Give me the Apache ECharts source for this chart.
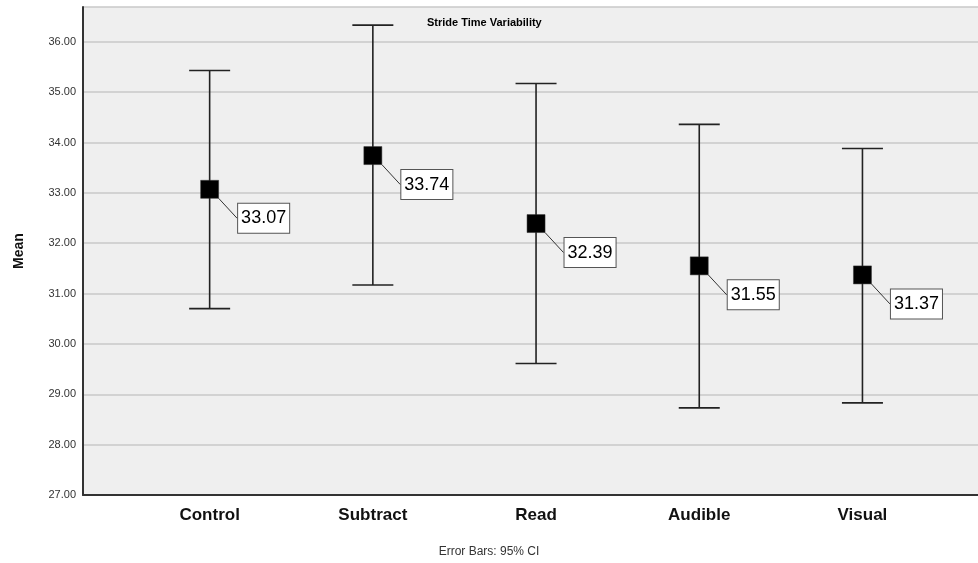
<!DOCTYPE html>
<html>
<head>
<meta charset="utf-8">
<script src="https://cdn.jsdelivr.net/npm/echarts@6/dist/echarts.min.js"></script>
<style>html,body{margin:0;padding:0;background:#fff}#c{width:978px;height:563px}</style>
</head>
<body>
<div id="c"></div>
<script>
const categories = ['Control', 'Subtract', 'Read', 'Audible', 'Visual'];
const means = [33.07, 33.74, 32.39, 31.55, 31.37];
const lowerCI = [30.70, 31.17, 29.61, 28.73, 28.83];
const upperCI = [35.43, 36.33, 35.17, 34.36, 33.88];
const yTickLabels = ['27.00','28.00','29.00','30.00','31.00','32.00','33.00','34.00','35.00','36.00'];

const chart = echarts.init(document.getElementById('c'));
const font = 'Arial, "Liberation Sans", sans-serif';
chart.setOption({
  animation: false,
  backgroundColor: '#ffffff',
  title: [
    { text: 'Stride Time Variability', left: 422, top: 12,
      textStyle: { fontFamily: font, fontSize: 11, fontWeight: 'bold', color: '#000' } },
    { text: 'Error Bars: 95% CI', left: 'center', top: 541,
      textStyle: { fontFamily: font, fontSize: 12, fontWeight: 'normal', color: '#333' } }
  ],
  grid: { left: 83, right: 0, top: 7, bottom: 68, show: true, backgroundColor: '#efefef', borderWidth: 0 },
  xAxis: {
    type: 'value', min: -0.776, max: 4.708,
    axisLine: { show: true, onZero: false, lineStyle: { color: '#333', width: 2 } },
    axisTick: { show: false },
    splitLine: { show: false },
    axisLabel: {
      customValues: [0, 1, 2, 3, 4],
      formatter: v => categories[Math.round(v)],
      fontFamily: font, fontSize: 17, fontWeight: 'bold', color: '#111', margin: 12
    }
  },
  yAxis: {
    type: 'value', min: 27, max: 36.69, interval: 1,
    name: 'Mean', nameLocation: 'middle', nameRotate: 90, nameGap: 57,
    nameTextStyle: { fontFamily: font, fontSize: 14, fontWeight: 'bold', color: '#111' },
    axisLine: { show: true, onZero: false, lineStyle: { color: '#333', width: 2 } },
    axisTick: { show: false },
    splitLine: { show: true, lineStyle: { color: '#c8c8c8', width: 1.5 } },
    axisLabel: {
      fontFamily: font, fontSize: 11, color: '#333', margin: 7,
      formatter: v => yTickLabels[Math.round(v - 27)] || ''
    }
  },
  series: [
    {
      type: 'custom',
      data: categories.map((c, i) => [i, lowerCI[i], upperCI[i]]),
      renderItem: function (params, api) {
        const x = api.value(0);
        const lo = api.coord([x, api.value(1)]);
        const hi = api.coord([x, api.value(2)]);
        const hw = 20.5;
        const st = { stroke: '#222', lineWidth: 1.6 };
        return {
          type: 'group',
          children: [
            { type: 'line', shape: { x1: hi[0], y1: hi[1], x2: lo[0], y2: lo[1] }, style: st },
            { type: 'line', shape: { x1: hi[0] - hw, y1: hi[1], x2: hi[0] + hw, y2: hi[1] }, style: st },
            { type: 'line', shape: { x1: lo[0] - hw, y1: lo[1], x2: lo[0] + hw, y2: lo[1] }, style: st }
          ]
        };
      },
      z: 2
    },
    {
      type: 'scatter',
      data: means.map((m, i) => [i, m]),
      symbol: 'rect', symbolSize: 18,
      itemStyle: { color: '#000', opacity: 1, borderColor: '#333', borderWidth: 0.5 },
      z: 3,
      label: {
        show: true, position: 'inside',
        formatter: p => p.value[1].toFixed(2),
        fontFamily: font, fontSize: 18, color: '#000',
        backgroundColor: '#fff', borderColor: '#555', borderWidth: 1,
        padding: [6, 3, 5, 3]
      },
      labelLayout: { dx: 54, dy: 29 },
      labelLine: { show: true, lineStyle: { color: '#333', width: 1 } }
    }
  ]
});
</script>
</body>
</html>
